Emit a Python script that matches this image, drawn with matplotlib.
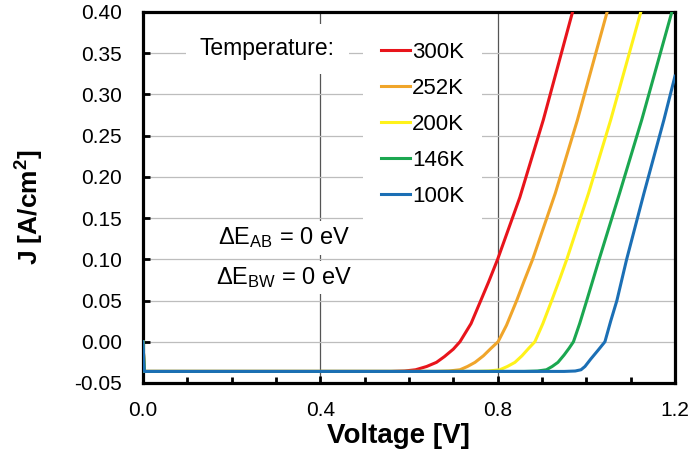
import matplotlib.pyplot as plt
from matplotlib.ticker import MultipleLocator, FormatStrFormatter

plt.rcParams['font.family'] = ['Liberation Sans', 'DejaVu Sans']
plt.rcParams['mathtext.fontset'] = 'custom'
plt.rcParams['mathtext.rm'] = 'Liberation Sans'
plt.rcParams['mathtext.it'] = 'Liberation Sans:italic'
plt.rcParams['mathtext.bf'] = 'Liberation Sans:bold'

# J-V curves (V in volts, J in A/cm^2)
v_300 = [0.0, 0.003, 0.40, 0.56, 0.59, 0.615, 0.64, 0.662, 0.68, 0.70, 0.715, 0.74, 0.762, 0.78, 0.80, 0.85, 0.903, 0.969]
j_300 = [0.0, -0.036, -0.036, -0.036, -0.0355, -0.034, -0.030, -0.025, -0.018, -0.009, 0.0, 0.022, 0.05, 0.073, 0.10, 0.175, 0.269, 0.40]

v_252 = [0.0, 0.003, 0.40, 0.66, 0.69, 0.715, 0.732, 0.749, 0.768, 0.785, 0.801, 0.82, 0.843, 0.86, 0.879, 0.93, 0.98, 1.047]
j_252 = [0.0, -0.036, -0.036, -0.036, -0.0355, -0.034, -0.030, -0.025, -0.017, -0.008, 0.0, 0.02, 0.05, 0.074, 0.10, 0.18, 0.269, 0.40]

v_200 = [0.0, 0.003, 0.40, 0.75, 0.78, 0.805, 0.822, 0.839, 0.855, 0.870, 0.884, 0.902, 0.922, 0.94, 0.956, 1.005, 1.055, 1.123]
j_200 = [0.0, -0.036, -0.036, -0.036, -0.0355, -0.034, -0.030, -0.025, -0.017, -0.008, 0.0, 0.022, 0.05, 0.076, 0.10, 0.18, 0.269, 0.40]

v_146 = [0.0, 0.003, 0.40, 0.86, 0.89, 0.91, 0.923, 0.936, 0.950, 0.961, 0.971, 0.985, 1.001, 1.015, 1.029, 1.075, 1.125, 1.193]
j_146 = [0.0, -0.036, -0.036, -0.036, -0.0355, -0.034, -0.030, -0.025, -0.016, -0.008, 0.0, 0.022, 0.05, 0.075, 0.10, 0.18, 0.269, 0.40]

v_100 = [0.0, 0.003, 0.40, 0.95, 0.975, 0.988, 0.997, 1.01, 1.027, 1.042, 1.055, 1.069, 1.08, 1.091, 1.13, 1.175, 1.2]
j_100 = [0.0, -0.036, -0.036, -0.036, -0.0355, -0.034, -0.030, -0.021, -0.010, 0.0, 0.025, 0.05, 0.075, 0.10, 0.18, 0.269, 0.322]

temps = ['300K', '252K', '200K', '146K', '100K']
colors = ['#E8141B', '#F0A52A', '#FFF21A', '#1BA750', '#1B6FB5']
curves = [(v_300, j_300), (v_252, j_252), (v_200, j_200), (v_146, j_146), (v_100, j_100)]

fig = plt.figure(figsize=(6.92, 4.57), dpi=100)
ax = fig.add_axes([0.2066, 0.162, 0.7688, 0.812])

for (v, j), lab, c in zip(curves, temps, colors):
    ax.plot(v, j, color=c, lw=2.2, label=lab, zorder=3)

ax.set_xlim(0, 1.2)
ax.set_ylim(-0.05, 0.40)

ax.xaxis.set_major_locator(MultipleLocator(0.4))
ax.xaxis.set_minor_locator(MultipleLocator(0.1))
ax.yaxis.set_major_locator(MultipleLocator(0.05))
ax.xaxis.set_major_formatter(FormatStrFormatter('%.1f'))
ax.yaxis.set_major_formatter(FormatStrFormatter('%.2f'))

ax.tick_params(which='both', direction='in', width=2, labelsize=15)
ax.tick_params(which='major', length=5)
ax.tick_params(which='minor', length=4)
ax.tick_params(axis='y', pad=15)
ax.tick_params(axis='x', pad=13)

ax.grid(axis='y', color='#BDBDBD', lw=0.9, zorder=0)
ax.grid(axis='x', which='major', color='#555555', lw=0.9, zorder=0)
for s in ax.spines.values():
    s.set_linewidth(2.3)

ax.set_xlabel('Voltage [V]', fontsize=20, fontweight='bold')
ax.set_ylabel('J [A/cm$^\\mathbf{2}$]', fontsize=19, fontweight='bold')
ax.xaxis.set_label_coords(0.481, -0.108)
ax.yaxis.set_label_coords(-0.182, 0.474)

ax.text(0.107, 0.900, 'Temperature:', transform=ax.transAxes, fontsize=16.5,
        va='center', ha='left', zorder=4,
        bbox=dict(facecolor='white', edgecolor='none', pad=10))

leg = ax.legend(loc='upper left', bbox_to_anchor=(0.393, 0.996), frameon=True,
                fontsize=16, handlelength=1.3, handletextpad=0.1,
                labelspacing=0.67, borderpad=0.8, fancybox=False)
leg.get_frame().set_facecolor('white')
leg.get_frame().set_edgecolor('none')
leg.get_frame().set_alpha(1)
leg.set_zorder(5)

ax.text(0.265, 0.391, '$\\Delta$E$_{\\mathrm{AB}}$ = 0 eV', transform=ax.transAxes,
        fontsize=17, ha='center', va='center', zorder=4,
        bbox=dict(facecolor='white', edgecolor='none', pad=3))
ax.text(0.265, 0.284, '$\\Delta$E$_{\\mathrm{BW}}$ = 0 eV', transform=ax.transAxes,
        fontsize=17, ha='center', va='center', zorder=4,
        bbox=dict(facecolor='white', edgecolor='none', pad=3))

plt.savefig('out.png', dpi=100)
